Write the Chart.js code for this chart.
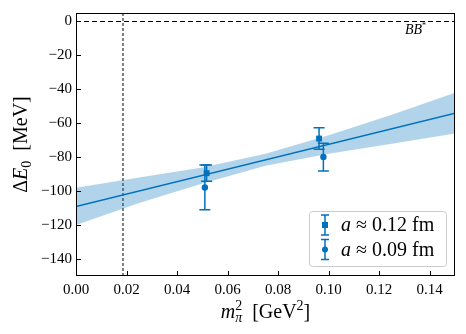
<!DOCTYPE html>
<html>
<head>
<meta charset="utf-8">
<script src="https://cdn.jsdelivr.net/npm/chart.js@4/dist/chart.umd.min.js"></script>
<style>
  body { margin: 0; background: #fff; }
  canvas { display: block; }
</style>
</head>
<body>
<canvas id="chart" width="466" height="334"></canvas>
<script>
// lattice points, a ~ 0.12 fm (squares)
const sqX = [0.0517, 0.0962];
const sqY = [-89.4, -69.0];
const sqErr = [4.8, 6.3];
// lattice points, a ~ 0.09 fm (circles)
const ciX = [0.0510, 0.0979];
const ciY = [-97.8, -79.9];
const ciErr = [13.2, 8.2];
// linear fit and its error band
const fitX = [0, 0.15];
const fitY = [-109, -54];
const bandX = [0, 0.025, 0.05, 0.075, 0.1, 0.125, 0.15];
const bandHi = [-98, -92, -86, -78, -67, -55, -42];
const bandLo = [-120, -107, -95.5, -85, -78, -72, -66];
// threshold and physical point
const bbStar = 0;
const physX = 0.0186;
// ticks
const xTicks = [0, 0.02, 0.04, 0.06, 0.08, 0.10, 0.12, 0.14];
const yTicks = [0, -20, -40, -60, -80, -100, -120, -140];

const blue = 'rgb(0, 114, 189)';
const serif = "'Liberation Serif', 'DejaVu Serif', serif";

function pts(xs, ys) { return xs.map((x, i) => ({x: x, y: ys[i]})); }

// draws pieces of text one after another; each piece {t, it, dy, sc}
function drawRich(ctx, parts, x, y, size, align) {
  let w = 0;
  parts.forEach(p => {
    ctx.font = (p.it ? 'italic ' : '') + Math.round(size * (p.sc || 1)) + 'px ' + serif;
    p.w = p.stack ? 0 : ctx.measureText(p.t).width;
    w += p.w;
  });
  let cx = align === 'center' ? x - w / 2 : x;
  ctx.textAlign = 'left';
  ctx.textBaseline = 'alphabetic';
  parts.forEach(p => {
    ctx.font = (p.it ? 'italic ' : '') + Math.round(size * (p.sc || 1)) + 'px ' + serif;
    ctx.fillText(p.t, cx + (p.dx || 0), y + (p.dy || 0));
    cx += p.w;
  });
}

const extras = {
  id: 'extras',
  afterDatasetsDraw(chart) {
    const ctx = chart.ctx, xs = chart.scales.x, ys = chart.scales.y;
    // error bars
    ctx.save();
    ctx.strokeStyle = blue;
    ctx.lineWidth = 1.5;
    [[sqX, sqY, sqErr], [ciX, ciY, ciErr]].forEach(s => {
      s[0].forEach((xv, i) => {
        const px = xs.getPixelForValue(xv);
        const top = ys.getPixelForValue(s[1][i] + s[2][i]);
        const bot = ys.getPixelForValue(s[1][i] - s[2][i]);
        ctx.beginPath();
        ctx.moveTo(px, top); ctx.lineTo(px, bot);
        ctx.moveTo(px - 5.5, top); ctx.lineTo(px + 5.5, top);
        ctx.moveTo(px - 5.5, bot); ctx.lineTo(px + 5.5, bot);
        ctx.stroke();
      });
    });
    ctx.restore();
  },
  afterDraw(chart) {
    const ctx = chart.ctx, a = chart.chartArea, xs = chart.scales.x, ys = chart.scales.y;
    ctx.save();
    // frame
    ctx.strokeStyle = '#000';
    ctx.lineWidth = 1;
    ctx.strokeRect(a.left + 0.5, a.top + 0.5, a.right - a.left - 1, a.bottom - a.top - 1);
    // inward ticks
    ctx.beginPath();
    xTicks.forEach(v => {
      const px = Math.round(xs.getPixelForValue(v)) + 0.5;
      ctx.moveTo(px, a.bottom); ctx.lineTo(px, a.bottom - 5);
    });
    yTicks.forEach(v => {
      const py = Math.round(ys.getPixelForValue(v)) + 0.5;
      ctx.moveTo(a.left, py); ctx.lineTo(a.left + 5, py);
    });
    ctx.stroke();

    ctx.fillStyle = '#000';
    // BB* label
    drawRich(ctx, [{t: 'BB', it: true}, {t: '*', sc: 0.6, dy: -6}], 405, 34, 14, 'left');

    // axis titles
    drawRich(ctx, [{t: 'm', it: true}, {t: '2', sc: 0.7, dy: -8, stack: true}, {t: 'π', it: true, sc: 0.7, dy: 4},
      {t: '  [GeV'}, {t: '2', sc: 0.7, dy: -8}, {t: ']'}], (a.left + a.right) / 2, 318, 20, 'center');
    ctx.translate(27, (a.top + a.bottom) / 2);
    ctx.rotate(-Math.PI / 2);
    drawRich(ctx, [{t: 'Δ'}, {t: 'E', it: true}, {t: '0', sc: 0.7, dy: 4}, {t: '  [MeV]'}], 0, 0, 20, 'center');
    ctx.restore();

    // legend
    ctx.save();
    const bx = 309, by = 211, bw = 137, bh = 55;
    ctx.fillStyle = 'rgba(255,255,255,0.85)';
    ctx.strokeStyle = '#cccccc';
    ctx.lineWidth = 1;
    ctx.beginPath();
    ctx.roundRect(bx + 0.5, by + 0.5, bw, bh, 3);
    ctx.fill(); ctx.stroke();
    const rows = [{label: '0.12', shape: 'rect', cy: 225}, {label: '0.09', shape: 'circle', cy: 249.5}];
    rows.forEach(r => {
      const gx = 325;
      ctx.strokeStyle = blue; ctx.fillStyle = blue; ctx.lineWidth = 1.5;
      ctx.beginPath();
      ctx.moveTo(gx, r.cy - 10); ctx.lineTo(gx, r.cy + 10);
      ctx.moveTo(gx - 4, r.cy - 10); ctx.lineTo(gx + 4, r.cy - 10);
      ctx.moveTo(gx - 4, r.cy + 10); ctx.lineTo(gx + 4, r.cy + 10);
      ctx.stroke();
      ctx.beginPath();
      if (r.shape === 'rect') ctx.rect(gx - 3, r.cy - 3, 6, 6);
      else ctx.arc(gx, r.cy, 3, 0, Math.PI * 2);
      ctx.fill();
      ctx.fillStyle = '#000';
      drawRich(ctx, [{t: 'a', it: true}, {t: ' ≈ ' + r.label + ' fm'}], 341, r.cy + 6, 20, 'left');
    });
    ctx.restore();
  }
};

new Chart(document.getElementById('chart'), {
  type: 'scatter',
  data: {
    datasets: [
      {
        data: pts(sqX, sqY),
        pointStyle: 'rect',
        pointRadius: 4.2,
        backgroundColor: blue,
        borderColor: blue,
        borderWidth: 0
      },
      {
        data: pts(ciX, ciY),
        pointStyle: 'circle',
        pointRadius: 3.2,
        backgroundColor: blue,
        borderColor: blue,
        borderWidth: 0
      },
      {
        type: 'line',
        data: pts(fitX, fitY),
        borderColor: blue,
        borderWidth: 1.5,
        pointRadius: 0,
        fill: false
      },
      {
        type: 'line',
        data: pts(bandX, bandHi),
        borderWidth: 0,
        borderColor: 'rgba(0,0,0,0)',
        backgroundColor: 'rgba(0, 114, 189, 0.3)',
        pointRadius: 0,
        fill: '+1'
      },
      {
        type: 'line',
        data: pts(bandX, bandLo),
        borderWidth: 0,
        borderColor: 'rgba(0,0,0,0)',
        pointRadius: 0,
        fill: false
      },
      {
        type: 'line',
        data: [{x: 0, y: bbStar}, {x: 0.15, y: bbStar}],
        borderColor: '#000',
        borderWidth: 1.2,
        borderDash: [5, 3],
        pointRadius: 0,
        fill: false
      },
      {
        type: 'line',
        data: [{x: physX, y: -150}, {x: physX, y: 5}],
        borderColor: '#000',
        borderWidth: 1,
        borderDash: [3, 2],
        pointRadius: 0,
        fill: false
      }
    ]
  },
  options: {
    responsive: false,
    animation: false,
    devicePixelRatio: 1,
    layout: { padding: { left: 0, top: 9, right: 11, bottom: 0 } },
    plugins: {
      legend: { display: false },
      tooltip: { enabled: false }
    },
    scales: {
      x: {
        type: 'linear',
        min: 0,
        max: 0.15,
        afterBuildTicks: s => { s.ticks = xTicks.map(v => ({value: v})); },
        afterFit: s => { s.height = 58; },
        grid: { display: false, drawTicks: false },
        border: { display: false },
        ticks: {
          padding: 5,
          color: '#000',
          font: { family: serif, size: 15 },
          callback: v => v.toFixed(2)
        }
      },
      y: {
        min: -150,
        max: 5,
        afterBuildTicks: s => { s.ticks = yTicks.map(v => ({value: v})); },
        afterFit: s => { s.width = 76; },
        grid: { display: false, drawTicks: false },
        border: { display: false },
        ticks: {
          padding: 4,
          color: '#000',
          font: { family: serif, size: 15 },
          callback: v => (v < 0 ? '\u2212' + Math.abs(v) : String(v))
        }
      }
    }
  },
  plugins: [extras]
});
</script>
</body>
</html>
